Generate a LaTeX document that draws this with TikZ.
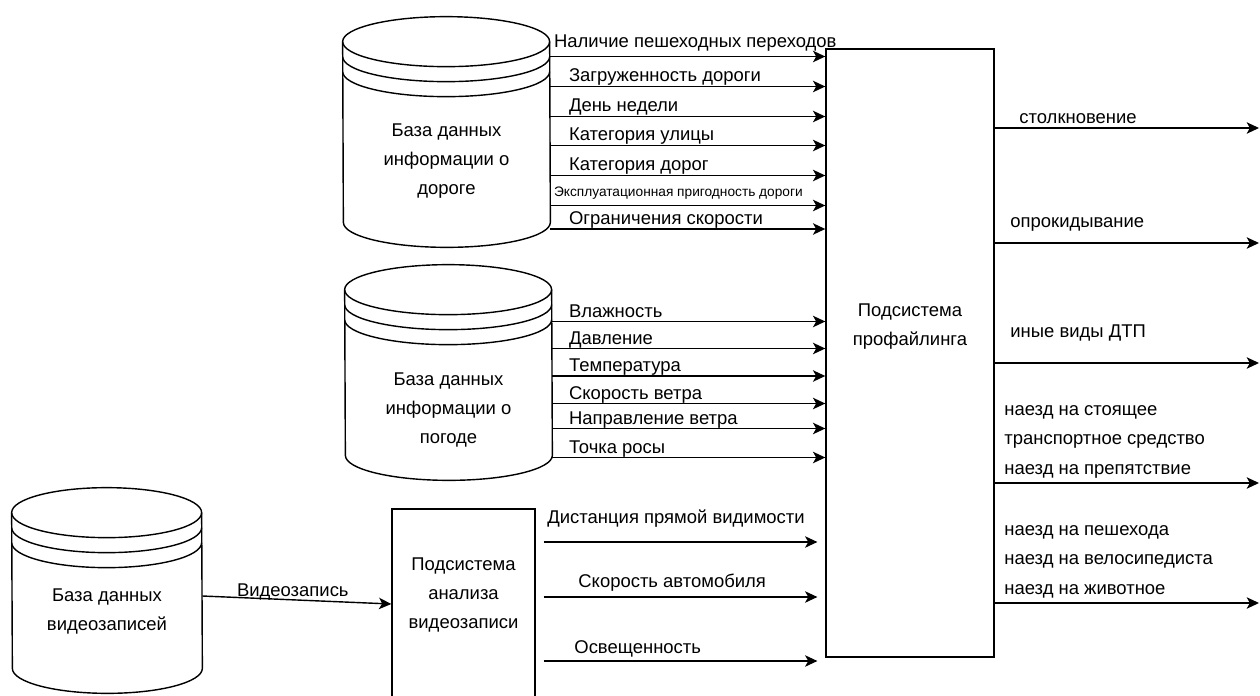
\documentclass[tikz,border=0pt]{standalone}
\usepackage{fontspec}
\setmainfont{Liberation Sans}
\usetikzlibrary{arrows.meta}

% datastore: name, centre, width, height, text shift, text
\newcommand{\datastore}[6]{%
  \node[dbbody, minimum width=#3cm, minimum height=#4cm,
        label={[dbtext, yshift=#5cm]center:#6}] (#1) at (#2) {};
  \draw[thick] ([yshift=-0.5cm]#1.north west)
      arc[start angle=180, end angle=0, x radius=#3/2, y radius=0.5]
      -- ([yshift=0.5cm]#1.south east)
      arc[start angle=0, end angle=-180, x radius=#3/2, y radius=0.5] -- cycle;
  \foreach \d in {0,0.3,0.6}
    \draw[thick] ([yshift={-(0.5+\d)*1cm}]#1.north west)
      arc[start angle=180, end angle=360, x radius=#3/2, y radius=0.5];
}

\begin{document}
\begin{tikzpicture}[
        >={Stealth[length=7pt, width=6.5pt, inset=1.8pt]},
        dbbody/.style={rectangle, draw=none, inner sep=0pt},
        dbtext/.style={align=center, font=\fontsize{10.5}{16.5}\selectfont},
        procbox/.style={rectangle, draw=black, thick, inner sep=0pt},
        boxtext/.style={align=center, font=\fontsize{10.5}{16.5}\selectfont},
        inlbl/.style={anchor=base west, inner sep=0pt, font=\fontsize{10.5}{12.5}\selectfont},
        tinylbl/.style={anchor=base west, inner sep=0pt, font=\fontsize{7.8}{9}\selectfont},
        outlbl/.style={anchor=south west, inner sep=0pt, align=left, text depth=0.1cm, font=\fontsize{10.5}{16.8}\selectfont}
    ]
        \useasboundingbox (0,0) rectangle (25.2,13.9);
        \clip (0,0) rectangle (25.2,13.9);

        % Data stores
        \datastore{roaddb}{8.93,11.26}{4.14}{4.6}{-0.58}{База данных\\информации о\\дороге}
        \datastore{weatherdb}{8.97,6.45}{4.14}{4.3}{-0.75}{База данных\\информации о\\погоде}
        \datastore{videodb}{2.14,2.09}{3.8}{4.1}{-0.41}{База данных\\видеозаписей}

        % Subsystems
        \node[procbox, minimum width=3.36cm, minimum height=12.16cm,
              label={[boxtext, yshift=0.52cm]center:Подсистема\\профайлинга}] (prof) at (18.2,6.84) {};
        \node[procbox, minimum width=2.86cm, minimum height=4.72cm,
              label={[boxtext, yshift=0.64cm]center:Подсистема\\анализа\\видеозаписи}] (anal) at (9.27,1.36) {};
        \coordinate (outedge) at (25.18,0);

        % Road data
        \draw[->, thick] (roaddb.east |- 0,12.77) -- node[inlbl, pos=0, xshift=0.06cm, yshift=0.18cm] {Наличие пешеходных переходов} (prof.west |- 0,12.77);
        \draw[->, thick] (roaddb.east |- 0,12.17) -- node[inlbl, pos=0, xshift=0.36cm, yshift=0.1cm] {Загруженность дороги} (prof.west |- 0,12.17);
        \draw[->, thick] (roaddb.east |- 0,11.57) -- node[inlbl, pos=0, xshift=0.36cm, yshift=0.1cm] {День недели} (prof.west |- 0,11.57);
        \draw[->, thick] (roaddb.east |- 0,10.99) -- node[inlbl, pos=0, xshift=0.36cm, yshift=0.1cm] {Категория улицы} (prof.west |- 0,10.99);
        \draw[->, thick] (roaddb.east |- 0,10.39) -- node[inlbl, pos=0, xshift=0.36cm, yshift=0.1cm] {Категория дорог} (prof.west |- 0,10.39);
        \draw[->, thick] (roaddb.east |- 0,9.79) -- node[tinylbl, pos=0, xshift=0.06cm, yshift=0.18cm] {Эксплуатационная пригодность дороги} (prof.west |- 0,9.79);
        \draw[->, thick] (roaddb.east |- 0,9.32) -- node[inlbl, pos=0, xshift=0.36cm, yshift=0.1cm] {Ограничения скорости} (prof.west |- 0,9.32);

        % Weather data
        \draw[->, thick] (weatherdb.east |- 0,7.47) -- node[inlbl, pos=0, xshift=0.32cm, yshift=0.09cm] {Влажность} (prof.west |- 0,7.47);
        \draw[->, thick] (weatherdb.east |- 0,6.93) -- node[inlbl, pos=0, xshift=0.32cm, yshift=0.09cm] {Давление} (prof.west |- 0,6.93);
        \draw[->, thick] (weatherdb.east |- 0,6.38) -- node[inlbl, pos=0, xshift=0.32cm, yshift=0.09cm] {Температура} (prof.west |- 0,6.38);
        \draw[->, thick] (weatherdb.east |- 0,5.83) -- node[inlbl, pos=0, xshift=0.32cm, yshift=0.09cm] {Скорость ветра} (prof.west |- 0,5.83);
        \draw[->, thick] (weatherdb.east |- 0,5.33) -- node[inlbl, pos=0, xshift=0.32cm, yshift=0.09cm] {Направление ветра} (prof.west |- 0,5.33);
        \draw[->, thick] (weatherdb.east |- 0,4.75) -- node[inlbl, pos=0, xshift=0.32cm, yshift=0.09cm] {Точка росы} (prof.west |- 0,4.75);

        % Video data
        \draw[->, thick] (videodb.east |- 0,1.98) -- node[inlbl, anchor=base, midway, xshift=-0.08cm, yshift=0.07cm] {Видеозапись} (anal.west |- 0,1.82);
        \draw[->, thick, shorten <=4.5pt, shorten >=4.5pt] (anal.east |- 0,3.06) -- node[inlbl, pos=0, xshift=0.22cm, yshift=0.38cm] {Дистанция прямой видимости} (prof.west |- 0,3.06);
        \draw[->, thick, shorten <=4.5pt, shorten >=4.5pt] (anal.east |- 0,1.96) -- node[inlbl, pos=0, xshift=0.84cm, yshift=0.2cm] {Скорость автомобиля} (prof.west |- 0,1.96);
        \draw[->, thick, shorten <=4.5pt, shorten >=4.5pt] (anal.east |- 0,0.68) -- node[inlbl, pos=0, xshift=0.76cm, yshift=0.16cm] {Освещенность} (prof.west |- 0,0.68);

        % Outputs
        \draw[->, thick] (prof.east |- 0,11.34) -- node[outlbl, pos=0, xshift=0.48cm, yshift=-0.02cm] {столкновение} (outedge |- 0,11.34);
        \draw[->, thick] (prof.east |- 0,9.04) -- node[outlbl, pos=0, xshift=0.3cm, yshift=0.2cm] {опрокидывание} (outedge |- 0,9.04);
        \draw[->, thick] (prof.east |- 0,6.64) -- node[outlbl, pos=0, xshift=0.3cm, yshift=0.4cm] {иные виды ДТП} (outedge |- 0,6.64);
        \draw[->, thick] (prof.east |- 0,4.24) -- node[outlbl, pos=0, xshift=0.18cm, yshift=0.06cm] {наезд на стоящее\\транспортное средство\\наезд на препятствие} (outedge |- 0,4.24);
        \draw[->, thick] (prof.east |- 0,1.84) -- node[outlbl, pos=0, xshift=0.18cm, yshift=0.06cm] {наезд на пешехода\\наезд на велосипедиста\\наезд на животное} (outedge |- 0,1.84);

    \end{tikzpicture}
\end{document}
